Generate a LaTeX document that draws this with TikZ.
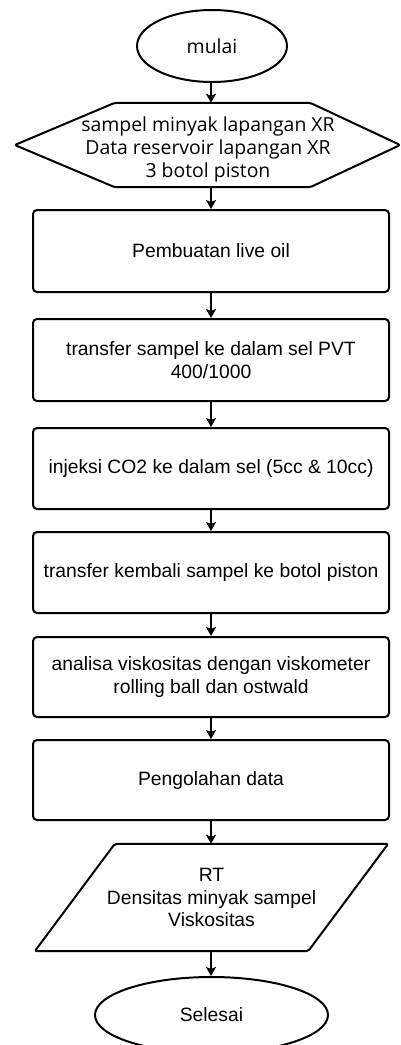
\documentclass[tikz,border=0pt]{standalone}
\usepackage{fontspec}
\setmainfont{Liberation Sans}
\newfontfamily\osans{Open Sans}
\usetikzlibrary{shapes.geometric,arrows.meta,calc}
\begin{document}
\begin{tikzpicture}[x=1pt,y=-1pt,
  every node/.style={font=\fontsize{19.3}{22.5}\selectfont, text=black, align=center},
  osf/.style={font=\osans\fontsize{19.4}{23}\selectfont},
  proc/.style={draw, line width=2pt, rounded corners=4pt, minimum width=356pt, inner sep=0pt},
  term/.style={draw, ellipse, line width=2pt, inner sep=0pt},
  arr/.style={line width=2pt, -{Stealth[length=9pt,width=10pt,inset=2pt]}},
  outline/.style={line width=2pt, line join=round, rounded corners=2pt}]
\useasboundingbox (0,0) rectangle (400,1045);

\node[term, osf, minimum width=150pt, minimum height=72pt] (mulai) at (212,46) {mulai};

\node[minimum width=385pt, minimum height=84pt, inner sep=0pt] (hex) at (207.5,145) {};
\node[osf, inner sep=0pt] (hextxt) at (208,149.5)
  {sampel minyak lapangan XR\\Data reservoir lapangan XR\\3 botol piston};
\draw[outline] (hex.west) -- ($(hex.north west)+(100,0)$) -- ($(hex.north east)+(-90,0)$)
  -- (hex.east) -- ($(hex.south east)+(-90,0)$) -- ($(hex.south west)+(100,0)$) -- cycle;

\node[proc, minimum height=82pt] (b1) at (211,251) {Pembuatan live oil};
\node[proc, minimum height=82pt] (b2) at (211,360) {transfer sampel ke dalam sel PVT\\400/1000};
\node[proc, minimum height=81pt] (b3) at (211,468.5) {injeksi CO2 ke dalam sel (5cc \& 10cc)};
\node[proc, minimum height=81pt] (b4) at (211,572.5) {transfer kembali sampel ke botol piston};
\node[proc, minimum height=80pt] (b5) at (211,677) {analisa viskositas dengan viskometer\\rolling ball dan ostwald};
\node[proc, minimum height=80pt] (b6) at (211,780) {Pengolahan data};

\node[minimum width=353pt, minimum height=107pt, inner sep=0pt] (out) at (211.5,897.5)
  {RT\\Densitas minyak sampel\\Viskositas};
\draw[outline] (out.south west) -- ($(out.north west)+(80,0)$) -- (out.north east)
  -- ($(out.south east)+(-80,0)$) -- cycle;

\node[term, minimum width=233pt, minimum height=76pt] (end) at (211.5,1015) {Selesai};

\draw[arr] (mulai.south -| b1.north) -- (hex.north -| b1.north);
\draw[arr] (hex.south -| b1.north) -- (b1.north);
\draw[arr] (b1) -- (b2);
\draw[arr] (b2) -- (b3);
\draw[arr] (b3) -- (b4);
\draw[arr] (b4) -- (b5);
\draw[arr] (b5) -- (b6);
\draw[arr] (b6.south) -- (b6.south |- out.north);
\draw[arr] (out.south -| b6.south) -- (end.north -| b6.south);
\end{tikzpicture}
\end{document}
